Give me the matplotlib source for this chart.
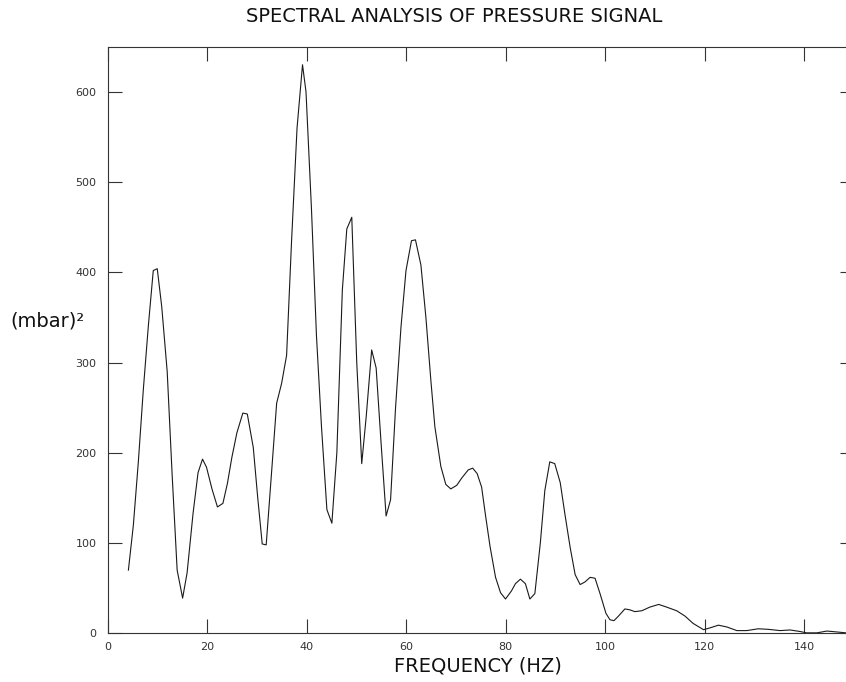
# ============================================================
# Spectral analysis of pressure signal
# ============================================================

import matplotlib
matplotlib.use("Agg")
import matplotlib.pyplot as plt

# ============================================================
# Data
# ============================================================

freq_hz = [
    4.2, 5.2, 6.2, 7.2, 8.2, 9.2, 10.0, 10.9, 12.0, 13.0,
    14.0, 15.1, 16.0, 17.2, 18.2, 19.1, 19.9, 21.0, 22.1, 23.2,
    24.1, 25.0, 26.0, 27.2, 28.1, 29.3, 30.2, 31.1, 31.9, 33.0,
    34.0, 35.0, 36.0, 37.0, 38.1, 39.2, 39.9, 41.0, 42.0, 43.0,
    44.1, 45.1, 46.1, 47.2, 48.1, 49.1, 50.1, 51.1, 52.0, 53.1,
    54.0, 55.0, 56.0, 56.9, 57.9, 59.0, 60.0, 61.1, 61.9, 63.0,
    64.0, 65.0, 65.8, 67.0, 68.0, 69.0, 70.2, 71.2, 72.5, 73.4,
    74.3, 75.2, 76.0, 76.9, 78.0, 79.0, 80.0, 81.2, 82.0, 83.0,
    84.0, 84.9, 85.9, 87.0, 87.9, 88.9, 89.9, 91.0, 92.0, 93.0,
    94.0, 95.0, 96.0, 97.0, 98.0, 99.0, 100.2, 101.0, 101.8, 102.7,
    104.0, 105.0, 106.0, 107.4, 109.0, 110.8, 112.4, 114.4, 116.1, 117.7,
    119.8, 121.1, 122.8, 124.5, 126.5, 128.5, 130.8, 132.8, 135.2, 137.2,
    139.2, 140.5, 142.6, 144.6, 146.6, 148.4, 150.0,
]

power_mbar2 = [
    70, 120, 190, 270, 340, 402, 404, 362, 290, 175,
    70, 39, 67, 133, 178, 193, 184, 160, 140, 144,
    166, 195, 222, 244, 243, 206, 150, 99, 98, 180,
    255, 277, 308, 435, 560, 630, 600, 470, 330, 230,
    137, 122, 200, 380, 448, 461, 300, 188, 240, 314,
    294, 210, 130, 148, 250, 340, 402, 435, 436, 408,
    350, 280, 229, 185, 165, 160, 164, 172, 181, 183,
    177, 162, 130, 96, 62, 45, 38, 47, 55, 60,
    55, 38, 44, 100, 158, 190, 188, 167, 130, 95,
    65, 54, 57, 62, 61, 44, 22, 15, 14, 19,
    27, 26, 24, 25, 29, 32, 29, 25, 19, 11,
    4, 6, 9, 7, 3, 3, 5, 4.4, 3, 3.7,
    2, 0.5, 0.5, 2.5, 1.5, 0.5, 0.5,
]

x_ticks = [0, 20, 40, 60, 80, 100, 120, 140]
y_ticks = [0, 100, 200, 300, 400, 500, 600]

# ============================================================
# Figure
# ============================================================

W, H = 846, 682
fig = plt.figure(figsize=(W / 100, H / 100), dpi=100)

left, right, top, bottom = 107.5, 853.75, 46.7, 633.3
ax = fig.add_axes([left / W, 1 - bottom / H, (right - left) / W, (bottom - top) / H])

ax.plot(freq_hz, power_mbar2, color="#1a1a1a", linewidth=0.8)

ax.set_xlim(0, 150)
ax.set_ylim(0, 650)
ax.set_xticks(x_ticks)
ax.set_yticks(y_ticks)

ax.tick_params(direction="in", length=10, width=0.8, color="#333333",
               labelsize=8, labelcolor="#333333",
               top=True, right=True, pad=8)
ax.tick_params(axis="x", pad=6)

for spine in ax.spines.values():
    spine.set_linewidth(0.8)
    spine.set_color("#333333")

fig.text(454 / W, 1 - 16 / H, "SPECTRAL ANALYSIS OF PRESSURE SIGNAL",
         ha="center", va="center", fontsize=14, color="#111111")
fig.text(478 / W, 1 - 666 / H, "FREQUENCY (HZ)",
         ha="center", va="center", fontsize=14, color="#111111")
fig.text(47 / W, 1 - 321 / H, "(mbar)²",
         ha="center", va="center", fontsize=14, color="#111111")

fig.savefig("out.png", dpi=100)
